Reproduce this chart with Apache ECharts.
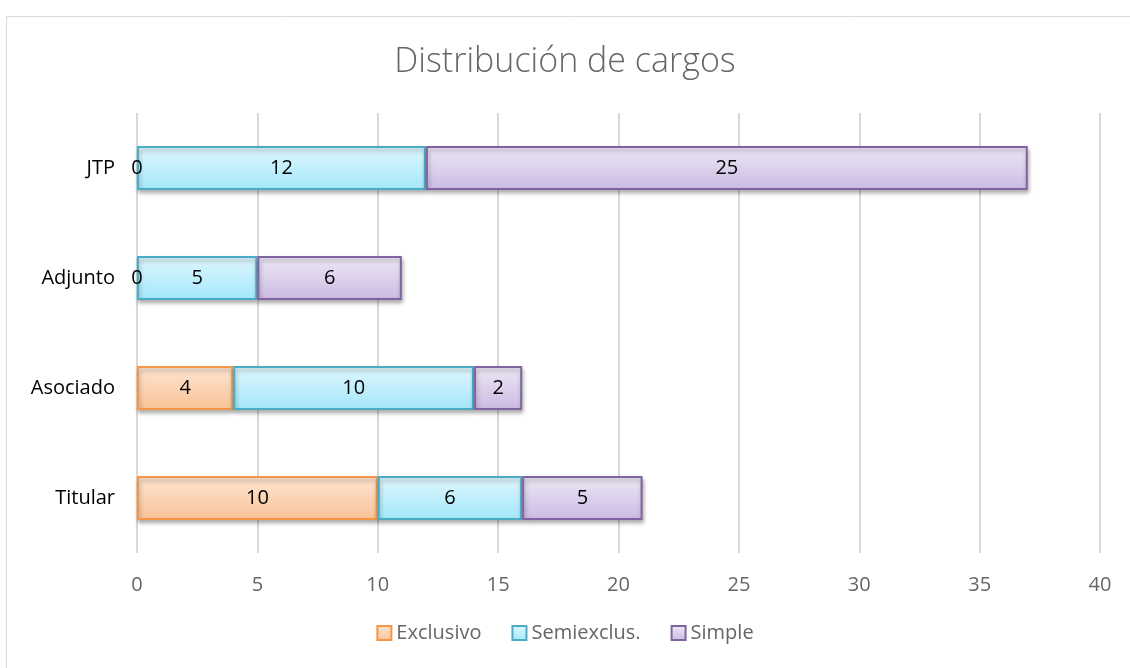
<!DOCTYPE html>
<html>
<head>
<meta charset="utf-8">
<script src="https://cdn.jsdelivr.net/npm/echarts@6/dist/echarts.min.js"></script>
<style>
  html, body { margin: 0; padding: 0; background: #fff; }
  #chart { width: 1130px; height: 668px; }
</style>
</head>
<body>
<div id="chart"></div>
<script>
// categories bottom -> top
var cargos = ["Titular", "Asociado", "Adjunto", "JTP"];
var exclusivo = [10, 4, 0, 0];
var semiexclus = [6, 10, 5, 12];
var simple = [5, 2, 6, 25];

var grad = function (top, bottom) {
    return new echarts.graphic.LinearGradient(0, 0, 0, 1, [
        { offset: 0, color: top },
        { offset: 1, color: bottom }
    ]);
};

var makeSeries = function (name, data, top, bottom, border) {
    return {
        name: name,
        type: "bar",
        stack: "total",
        barWidth: "40%",
        // zero-width bars: keep the "0" label but hide the border
        data: data.map(function (v) {
            return v === 0 ? { value: v, itemStyle: { borderWidth: 0, shadowBlur: 0, shadowOffsetY: 0, shadowOffsetX: 0 } } : v;
        }),
        itemStyle: {
            color: grad(top, bottom),
            borderColor: border,
            borderWidth: 2,
            shadowBlur: 4,
            shadowOffsetY: 3,
            shadowOffsetX: 1,
            shadowColor: "rgba(0,0,0,0.3)"
        },
        label: {
            show: true,
            position: "inside",
            color: "#000",
            fontSize: 20,
            fontFamily: "Open Sans"
        }
    };
};

var chart = echarts.init(document.getElementById("chart"));
chart.setOption({
    animation: false,
    title: {
        text: "Distribución de cargos",
        left: "center",
        top: 40,
        textStyle: {
            fontSize: 34,
            fontWeight: 300,
            color: "#666",
            fontFamily: "Open Sans"
        }
    },
    legend: {
        bottom: 20,
        left: "center",
        icon: "rect",
        itemWidth: 14,
        itemHeight: 14,
        itemGap: 30,
        textStyle: { fontSize: 20, color: "#666", fontFamily: "Open Sans" },
        data: ["Exclusivo", "Semiexclus.", "Simple"]
    },
    grid: { left: 137, right: 30, top: 113, bottom: 115 },
    xAxis: {
        type: "value",
        min: 0,
        max: 40,
        interval: 5,
        axisLine: { show: false },
        axisTick: { show: false },
        axisLabel: { fontSize: 20, color: "#666", margin: 22, fontFamily: "Open Sans" },
        splitLine: { lineStyle: { color: "#d9d9d9", width: 2 } }
    },
    yAxis: {
        type: "category",
        data: cargos,
        axisLine: { show: false },
        axisTick: { show: false },
        axisLabel: { fontSize: 20, color: "#000", margin: 22, fontFamily: "Open Sans" }
    },
    graphic: [{
        type: "rect",
        left: 4,
        top: 14,
        shape: { width: 1200, height: 700 },
        style: { fill: null, stroke: "#d9d9d9", lineWidth: 1 },
        silent: true
    }],
    series: [
        makeSeries("Exclusivo", exclusivo, "#fde5d2", "#f9c396", "#f79646"),
        makeSeries("Semiexclus.", semiexclus, "#e0f7fd", "#a3e7fb", "#4bacc6"),
        makeSeries("Simple", simple, "#eee8f5", "#cbbae2", "#8064a2")
    ]
});
</script>
</body>
</html>
